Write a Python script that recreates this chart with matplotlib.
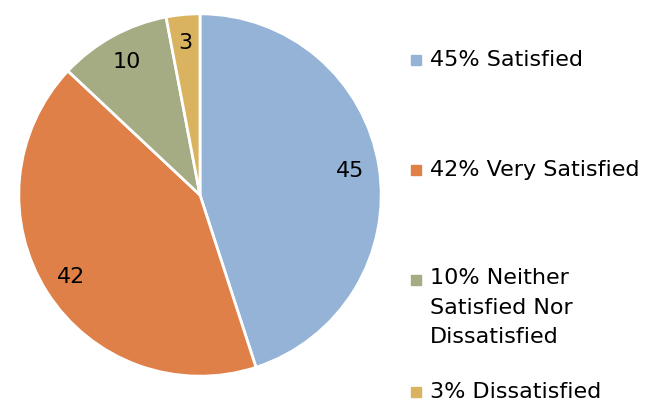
import matplotlib.pyplot as plt
from matplotlib.patches import Rectangle

labels = ['45% Satisfied', '42% Very Satisfied',
          '10% Neither\nSatisfied Nor\nDissatisfied', '3% Dissatisfied']
values = [45, 42, 10, 3]
colors = ['#95B3D7', '#DF8049', '#A5AC84', '#D9B35F']

plt.rcParams['font.family'] = ['DejaVu Sans']

fig = plt.figure(figsize=(6.72, 4.05), dpi=100)
W, H = 672, 405
cx, cy, r = 200, 195, 183
ax = fig.add_axes([(cx - r) / W, (H - cy - r) / H, 2 * r / W, 2 * r / H])

ax.pie(values, colors=colors, startangle=90, counterclock=False, radius=1,
       autopct=lambda p: f'{p:.0f}', pctdistance=0.84,
       wedgeprops=dict(edgecolor='white', linewidth=2),
       textprops=dict(fontsize=16, color='black'))
ax.set_xlim(-1.01, 1.01)
ax.set_ylim(-1.01, 1.01)
ax.set_aspect('equal')
ax.axis('off')

# legend entries placed by hand (uneven spacing in the original)
ys = [60, 170, 280, 392]
for lab, col, y in zip(labels, colors, ys):
    fig.patches.append(Rectangle((411 / W, (H - y - 5) / H), 10 / W, 10 / H,
                                 color=col, transform=fig.transFigure, figure=fig))
    if '\n' in lab:
        fig.text(430 / W, (H - y + 12) / H, lab, fontsize=16, va='top', ha='left',
                 linespacing=1.6)
    else:
        fig.text(430 / W, (H - y) / H, lab, fontsize=16, va='center', ha='left')

fig.savefig('out.png', dpi=100)
